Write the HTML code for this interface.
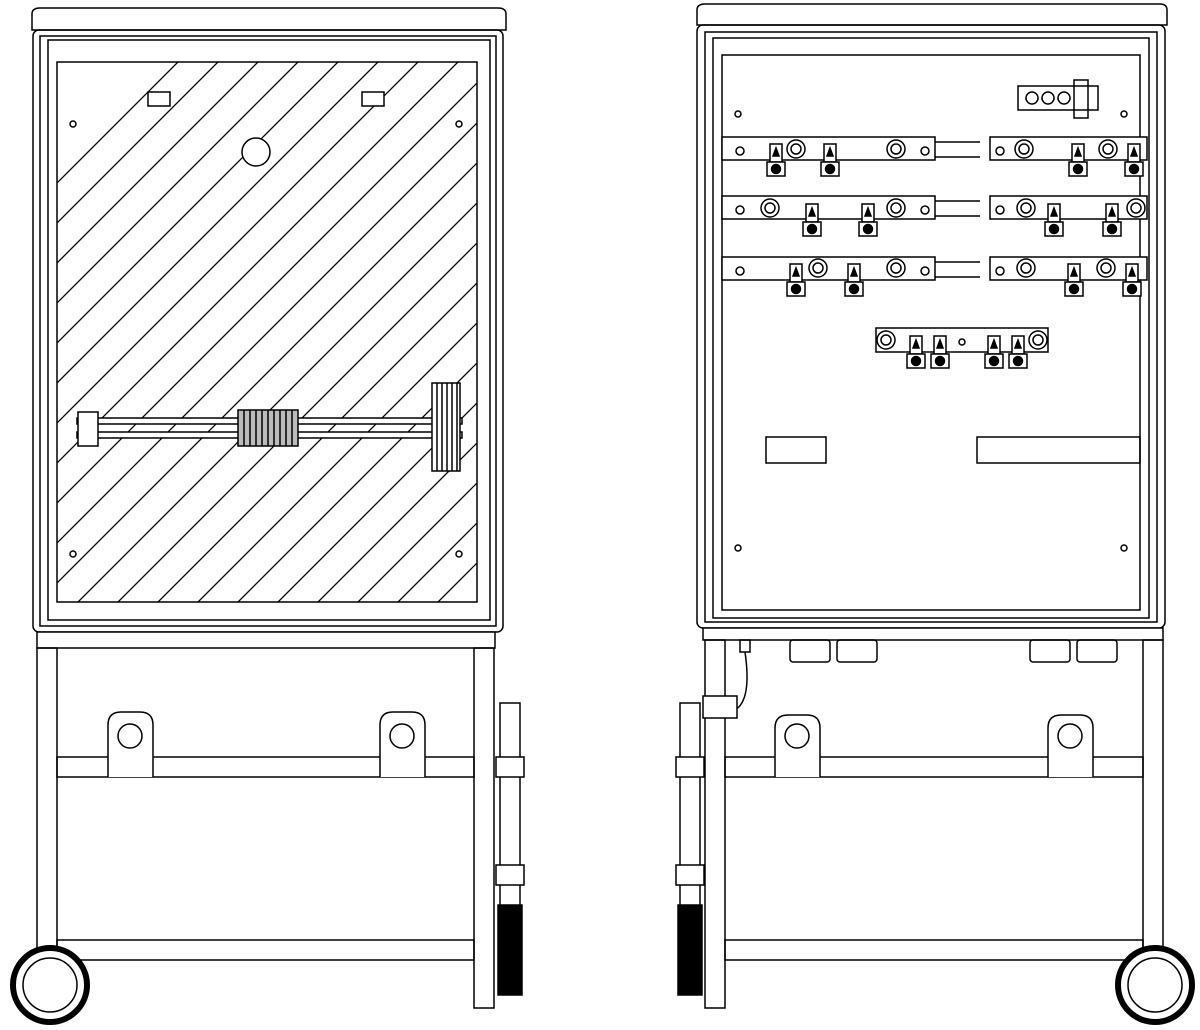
<!DOCTYPE html>
<html><head><style>html,body{margin:0;padding:0;background:#fff;width:1200px;height:1030px;overflow:hidden}svg{display:block}</style></head><body>
<svg width="1200" height="1030" viewBox="0 0 1200 1030" xmlns="http://www.w3.org/2000/svg" fill="none" stroke="#000" stroke-width="1.5">
<defs>
<clipPath id="g"><rect x="57" y="62" width="420" height="540"/></clipPath>
<g id="lug"><rect x="-6" y="-8" width="12" height="18" fill="#fff"/><path d="M-3 4 L0 -4 L3 4Z" fill="#000"/><rect x="-9" y="10" width="18" height="14" fill="#fff"/><circle cx="0" cy="17" r="4.5" fill="#000"/></g>
<g id="nut"><circle r="9" fill="#fff"/><circle r="5"/></g>
</defs>
<!-- LEFT CABINET -->
<path d="M32 30 L32 14 Q32 8 40 8 L498 8 Q506 8 506 14 L506 30Z" fill="#fff"/>
<rect x="33" y="30" width="470" height="602" rx="6"/>
<rect x="40" y="36" width="456" height="590"/>
<rect x="48" y="40" width="442" height="580"/>
<rect x="57" y="62" width="420" height="540"/>
<g clip-path="url(#g)" stroke-width="1.3">
<path d="M-500 1100 L700 -100 M-460 1100 L740 -100 M-420 1100 L780 -100 M-380 1100 L820 -100 M-340 1100 L860 -100 M-300 1100 L900 -100 M-260 1100 L940 -100 M-220 1100 L980 -100 M-180 1100 L1020 -100 M-140 1100 L1060 -100 M-100 1100 L1100 -100 M-60 1100 L1140 -100 M-20 1100 L1180 -100 M20 1100 L1220 -100 M60 1100 L1260 -100 M100 1100 L1300 -100 M140 1100 L1340 -100 M180 1100 L1380 -100 M220 1100 L1420 -100 M-540 1100 L660 -100 M-580 1100 L620 -100 M-620 1100 L580 -100 M-660 1100 L540 -100 M-700 1100 L500 -100 M-740 1100 L460 -100 M-780 1100 L420 -100 M-820 1100 L380 -100 M-860 1100 L340 -100"/>
</g>
<circle cx="256" cy="152" r="14" fill="#fff"/>
<rect x="148" y="92" width="22" height="14" fill="#fff"/><rect x="362" y="92" width="22" height="14" fill="#fff"/>
<circle cx="73" cy="124" r="3"/><circle cx="459" cy="124" r="3"/><circle cx="73" cy="554" r="3"/><circle cx="459" cy="554" r="3"/>
<rect x="77" y="418" width="385" height="6" fill="#fff"/><rect x="77" y="432" width="385" height="6" fill="#fff"/>
<rect x="78" y="412" width="20" height="34" fill="#fff"/>
<rect x="238" y="410" width="60" height="36" fill="#bbb"/>
<path d="M244 410v36M250 410v36M256 410v36M262 410v36M268 410v36M274 410v36M280 410v36M286 410v36M292 410v36"/>
<rect x="432" y="383" width="28" height="88" fill="#fff"/>
<path d="M437 383v88M442 383v88M447 383v88M452 383v88M457 383v88"/>
<!-- left stand -->
<rect x="37" y="632" width="458" height="16" fill="#fff"/>
<rect x="37" y="648" width="20" height="360"/><rect x="474" y="648" width="20" height="360"/>
<rect x="57" y="757" width="417" height="20"/><rect x="57" y="940" width="417" height="20"/>
<path d="M108 777 V725 Q108 712 121 712 H140 Q153 712 153 725 V777" fill="#fff"/><circle cx="130" cy="736" r="12"/>
<path d="M380 777 V725 Q380 712 393 712 H412 Q425 712 425 725 V777" fill="#fff"/><circle cx="402" cy="736" r="12"/>
<circle cx="50" cy="985" r="37" stroke-width="6" fill="#fff"/><circle cx="50" cy="985" r="27"/>
<rect x="500" y="703" width="20" height="290"/><rect x="496" y="757" width="28" height="20" fill="#fff"/><rect x="496" y="865" width="28" height="20" fill="#fff"/>
<rect x="498" y="905" width="24" height="90" fill="#000"/>
<!-- RIGHT CABINET -->
<path d="M697 25 L697 10 Q697 4 705 4 L1160 4 Q1167 4 1167 10 L1167 25Z" fill="#fff"/>
<rect x="697" y="25" width="468" height="603" rx="6"/>
<rect x="705" y="32" width="452" height="590"/>
<rect x="713" y="38" width="436" height="580"/>
<rect x="722" y="55" width="418" height="555"/>
<circle cx="738" cy="114" r="3"/><circle cx="1124" cy="114" r="3"/><circle cx="738" cy="548" r="3"/><circle cx="1124" cy="548" r="3"/>
<rect x="1018" y="86" width="80" height="24" fill="#fff"/><circle cx="1032" cy="98" r="6"/><circle cx="1048" cy="98" r="6"/><circle cx="1064" cy="98" r="6"/><rect x="1074" y="80" width="14" height="38"/>
<g id="row">
<rect x="722" y="137" width="213" height="23" fill="#fff"/><rect x="990" y="137" width="157" height="23" fill="#fff"/>
<path d="M935 142 H980 M935 157 H980"/>
<circle cx="740" cy="151" r="4"/><circle cx="925" cy="151" r="4"/><circle cx="1000" cy="151" r="4"/>
</g>
<use href="#row" y="59"/><use href="#row" y="120"/>
<use href="#nut" x="796" y="149"/><use href="#nut" x="896" y="149"/><use href="#nut" x="1024" y="149"/><use href="#nut" x="1108" y="149"/>
<use href="#lug" x="776" y="152"/><use href="#lug" x="830" y="152"/><use href="#lug" x="1078" y="152"/><use href="#lug" x="1134" y="152"/>
<use href="#nut" x="770" y="208"/><use href="#nut" x="896" y="208"/><use href="#nut" x="1026" y="208"/><use href="#nut" x="1136" y="208"/>
<use href="#lug" x="812" y="212"/><use href="#lug" x="868" y="212"/><use href="#lug" x="1054" y="212"/><use href="#lug" x="1112" y="212"/>
<use href="#nut" x="818" y="268"/><use href="#nut" x="896" y="268"/><use href="#nut" x="1026" y="268"/><use href="#nut" x="1106" y="268"/>
<use href="#lug" x="796" y="272"/><use href="#lug" x="854" y="272"/><use href="#lug" x="1074" y="272"/><use href="#lug" x="1132" y="272"/>
<rect x="876" y="328" width="172" height="24" fill="#fff"/>
<use href="#nut" x="886" y="340"/><use href="#nut" x="1038" y="340"/><circle cx="962" cy="342" r="3"/>
<use href="#lug" x="916" y="344"/><use href="#lug" x="940" y="344"/><use href="#lug" x="994" y="344"/><use href="#lug" x="1018" y="344"/>
<rect x="766" y="437" width="60" height="26"/><rect x="977" y="437" width="163" height="26"/>
<!-- right stand -->
<rect x="703" y="628" width="460" height="12" fill="#fff"/>
<rect x="705" y="640" width="20" height="368"/><rect x="1143" y="640" width="20" height="368"/>
<rect x="725" y="757" width="418" height="20"/><rect x="725" y="940" width="418" height="20"/>
<rect x="790" y="640" width="40" height="22" rx="3"/><rect x="837" y="640" width="40" height="22" rx="3"/><rect x="1030" y="640" width="40" height="22" rx="3"/><rect x="1077" y="640" width="40" height="22" rx="3"/>
<rect x="740" y="640" width="10" height="12"/><path d="M745 652 Q752 700 735 710"/>
<rect x="703" y="696" width="34" height="22" fill="#fff"/>
<path d="M775 777 V728 Q775 715 788 715 H807 Q820 715 820 728 V777" fill="#fff"/><circle cx="797" cy="736" r="12"/>
<path d="M1048 777 V728 Q1048 715 1061 715 H1080 Q1093 715 1093 728 V777" fill="#fff"/><circle cx="1070" cy="736" r="12"/>
<circle cx="1155" cy="985" r="37" stroke-width="6" fill="#fff"/><circle cx="1155" cy="985" r="27"/>
<rect x="680" y="703" width="20" height="290"/><rect x="676" y="757" width="28" height="20" fill="#fff"/><rect x="676" y="865" width="28" height="20" fill="#fff"/>
<rect x="678" y="905" width="24" height="90" fill="#000"/>
</svg>
</body></html>
